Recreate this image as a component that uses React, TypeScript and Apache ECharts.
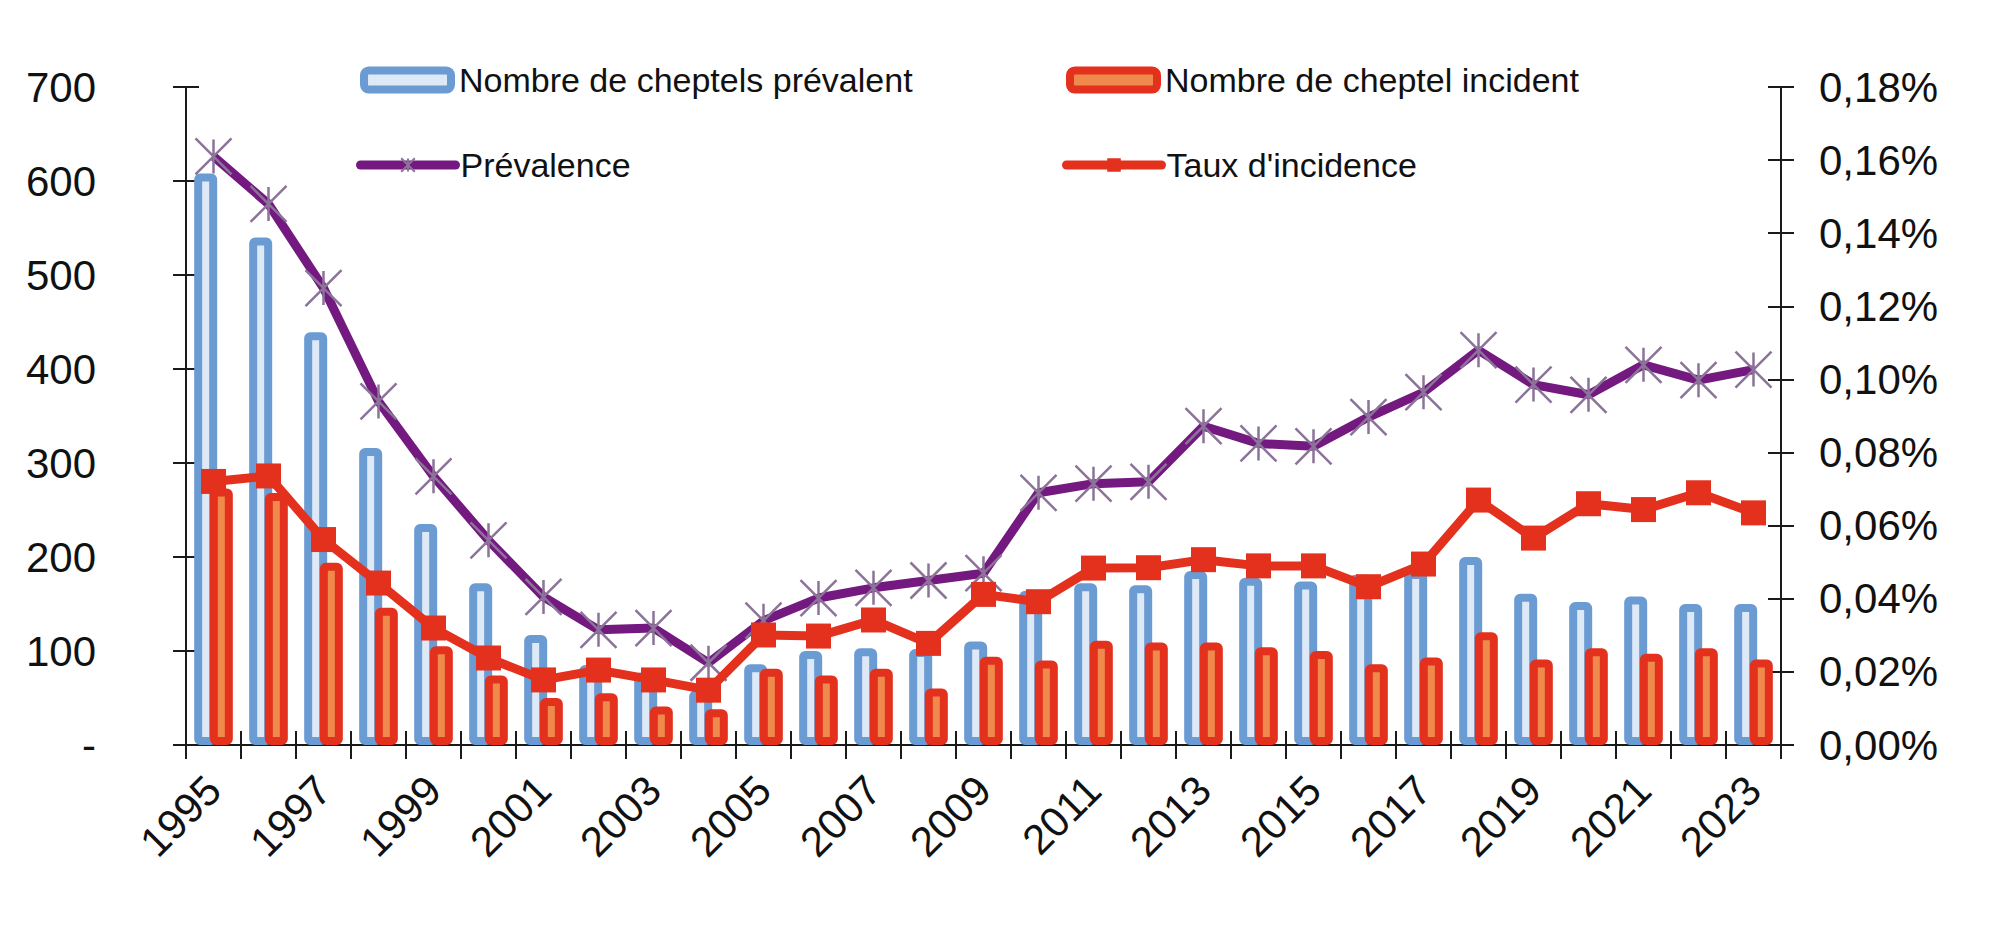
import React, { useEffect, useRef } from 'react';
import * as echarts from 'echarts';

// Années
const years = [
  '1995', '1996', '1997', '1998', '1999', '2000', '2001', '2002', '2003', '2004',
  '2005', '2006', '2007', '2008', '2009', '2010', '2011', '2012', '2013', '2014',
  '2015', '2016', '2017', '2018', '2019', '2020', '2021', '2022', '2023',
];

// Nombre de cheptels prévalents (axe gauche)
const cheptelsPrevalents = [
  608, 540, 439, 316, 235, 172, 117, 85, 77, 58,
  86, 100, 103, 102, 110, 164, 172, 170, 185, 178,
  174, 181, 185, 200, 161, 152, 158, 150, 150,
];

// Nombre de cheptels incidents (axe gauche)
const cheptelsIncidents = [
  273, 268, 194, 146, 105, 74, 50, 55, 41, 38,
  81, 74, 81, 60, 94, 90, 111, 109, 109, 104,
  100, 86, 93, 120, 91, 103, 97, 103, 91,
];

// Prévalence, en % (axe droit)
const prevalence = [
  0.161, 0.148, 0.125, 0.094, 0.0735, 0.056, 0.0405, 0.0315, 0.032, 0.0225,
  0.034, 0.0402, 0.043, 0.045, 0.047, 0.069, 0.0715, 0.072, 0.0872, 0.0825,
  0.0817, 0.0897, 0.0965, 0.108, 0.0986, 0.0958, 0.104, 0.0998, 0.1027,
];

// Taux d'incidence, en % (axe droit)
const tauxIncidence = [
  0.0721, 0.0736, 0.0562, 0.0443, 0.032, 0.0238, 0.0178, 0.0205, 0.0178, 0.015,
  0.0301, 0.0298, 0.0342, 0.0278, 0.0412, 0.0392, 0.0484, 0.0485, 0.0507, 0.049,
  0.049, 0.0433, 0.0495, 0.067, 0.0566, 0.066, 0.0644, 0.069, 0.0635,
];

const FONT = '"Liberation Sans", Arial, sans-serif';
const AXIS_COLOR = '#1a1a1a';
const BLUE_BORDER = '#6b9bd3';
const BLUE_FILL = '#dde9f7';
const RED = '#e4311e';
const ORANGE = '#ef8a4c';
const PURPLE = '#74197f';
const ASTERISK = '#8b7399';

const asteriskSymbol = 'path://M0,0L36,36M36,0L0,36M18,1L18,35';

export default function App() {
  const ref = useRef<HTMLDivElement>(null);

  useEffect(() => {
    if (!ref.current) return;
    const chart = echarts.init(ref.current, null, { renderer: 'svg' });

    const textStyle = { fontSize: 34, lineHeight: 34, color: '#111', fontFamily: FONT };
    const legendBase = {
      orient: 'horizontal' as const,
      padding: 0,
      itemGap: 0,
      selectedMode: false,
    };
    // Bar legend icons: thick border around a pale fill
    const barLegend = {
      ...legendBase,
      itemWidth: 87,
      itemHeight: 19,
      itemStyle: { borderWidth: 8 },
      textStyle: { ...textStyle, padding: [0, 0, 0, 3] },
    };
    // Line legend icons: thick line with a small marker
    const lineLegend = {
      ...legendBase,
      itemWidth: 95,
      itemHeight: 17,
      lineStyle: { width: 9, cap: 'round' },
      textStyle: { ...textStyle },
    };

    const leftFormatter = (v: number) => (v === 0 ? '-' : String(v));
    const rightFormatter = (v: number) => v.toFixed(2).replace('.', ',') + '%';

    const option: any = {
      animation: false,
      backgroundColor: '#ffffff',
      textStyle: { fontFamily: FONT },
      grid: { left: 186, right: 231, top: 87, bottom: 185, containLabel: false },
      legend: [
        { ...barLegend, left: 360, top: 63, data: ['Nombre de cheptels prévalent'] },
        { ...barLegend, left: 1066, top: 63, data: ['Nombre de cheptel incident'] },
        { ...lineLegend, left: 356, top: 148, data: ['Prévalence'] },
        { ...lineLegend, left: 1062, top: 148, data: ["Taux d'incidence"] },
      ],
      xAxis: [
        {
          type: 'category',
          data: years,
          boundaryGap: true,
          position: 'bottom',
          axisLine: { show: true, lineStyle: { color: AXIS_COLOR, width: 2 } },
          axisTick: { show: true, interval: 0, length: 14, lineStyle: { color: AXIS_COLOR, width: 2 } },
          axisLabel: {
            interval: 1,
            rotate: 45,
            fontSize: 42,
            margin: 38,
            color: '#111',
            fontFamily: FONT,
          },
          splitLine: { show: false },
        },
        {
          type: 'category',
          data: years,
          boundaryGap: true,
          position: 'bottom',
          axisLine: { show: false },
          axisTick: { show: true, inside: true, interval: 0, length: 14, lineStyle: { color: AXIS_COLOR, width: 2 } },
          axisLabel: { show: false },
          splitLine: { show: false },
        },
      ],
      yAxis: [
        {
          type: 'value',
          position: 'left',
          min: 0,
          max: 700,
          interval: 100,
          axisLine: { show: true, lineStyle: { color: AXIS_COLOR, width: 2 } },
          axisTick: { show: true, length: 13, lineStyle: { color: AXIS_COLOR, width: 2 } },
          axisLabel: { fontSize: 42, margin: 90, color: '#111', fontFamily: FONT, formatter: leftFormatter },
          splitLine: { show: false },
        },
        {
          type: 'value',
          position: 'right',
          min: 0,
          max: 0.18,
          interval: 0.02,
          axisLine: { show: true, lineStyle: { color: AXIS_COLOR, width: 2 } },
          axisTick: { show: true, length: 13, lineStyle: { color: AXIS_COLOR, width: 2 } },
          axisLabel: { fontSize: 42, margin: 38, color: '#111', fontFamily: FONT, formatter: rightFormatter },
          splitLine: { show: false },
        },
        {
          type: 'value',
          position: 'left',
          min: 0,
          max: 700,
          interval: 100,
          axisLine: { show: false },
          axisTick: { show: true, inside: true, length: 13, lineStyle: { color: AXIS_COLOR, width: 2 } },
          axisLabel: { show: false },
          splitLine: { show: false },
        },
        {
          type: 'value',
          position: 'right',
          min: 0,
          max: 0.18,
          interval: 0.02,
          axisLine: { show: false },
          axisTick: { show: true, inside: true, length: 13, lineStyle: { color: AXIS_COLOR, width: 2 } },
          axisLabel: { show: false },
          splitLine: { show: false },
        },
      ],
      series: [
        {
          name: 'Nombre de cheptels prévalent',
          type: 'bar',
          xAxisIndex: 0,
          yAxisIndex: 0,
          data: cheptelsPrevalents,
          barWidth: 23,
          barGap: '-32%',
          itemStyle: { color: BLUE_FILL, borderColor: BLUE_BORDER, borderWidth: 8, borderRadius: 2 },
          z: 2,
        },
        {
          name: 'Nombre de cheptel incident',
          type: 'bar',
          xAxisIndex: 0,
          yAxisIndex: 0,
          data: cheptelsIncidents,
          barWidth: 23,
          barGap: '-32%',
          itemStyle: { color: ORANGE, borderColor: RED, borderWidth: 8, borderRadius: 2 },
          z: 3,
        },
        {
          name: 'Prévalence',
          type: 'line',
          xAxisIndex: 0,
          yAxisIndex: 1,
          data: prevalence,
          symbol: asteriskSymbol,
          symbolSize: 36,
          showAllSymbol: true,
          lineStyle: { color: PURPLE, width: 9 },
          itemStyle: { color: 'rgba(0,0,0,0)', borderColor: ASTERISK, borderWidth: 2.5 },
          z: 5,
        },
        {
          name: "Taux d'incidence",
          type: 'line',
          xAxisIndex: 0,
          yAxisIndex: 1,
          data: tauxIncidence,
          symbol: 'rect',
          symbolSize: 25,
          showAllSymbol: true,
          lineStyle: { color: RED, width: 9 },
          itemStyle: { color: RED, borderWidth: 0 },
          z: 6,
        },
      ],
    };

    chart.setOption(option);
    return () => chart.dispose();
  }, []);

  return (
    <div
      ref={ref}
      style={{ position: 'absolute', left: 0, top: 0, width: 2012, height: 930, background: '#ffffff' }}
    />
  );
}
